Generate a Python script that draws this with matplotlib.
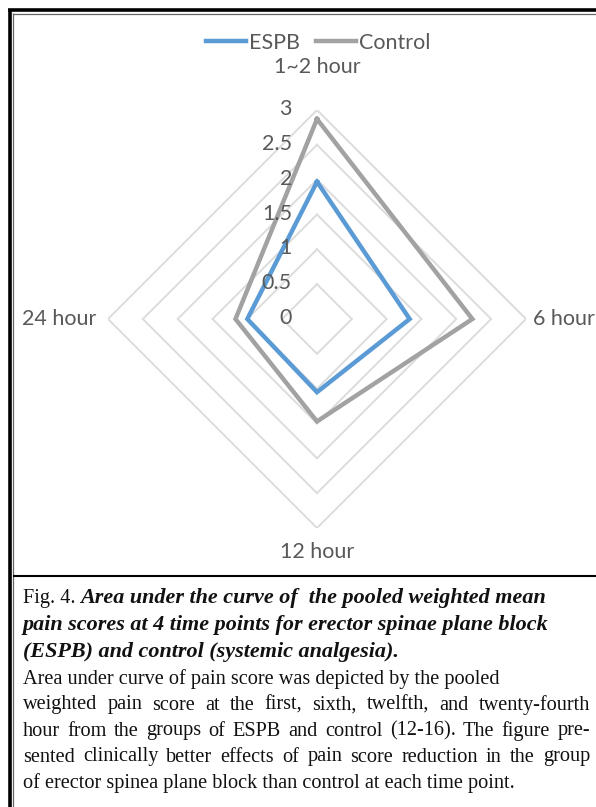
import matplotlib
matplotlib.use('Agg')
import matplotlib.pyplot as plt
import matplotlib.transforms as mtransforms
from matplotlib.lines import Line2D
import numpy as np

# ---------------- data ----------------
categories = ['1~2 hour', '6 hour', '12 hour', '24 hour']
series_names = ['ESPB', 'Control']
espb = [1.97, 1.33, 1.05, 1.00]
control = [2.87, 2.23, 1.47, 1.17]
ring_values = [0.5, 1.0, 1.5, 2.0, 2.5, 3.0]
tick_values = [0, 0.5, 1, 1.5, 2, 2.5, 3]
tick_labels = ['0', '0.5', '1', '1.5', '2', '2.5', '3']

caption_title_lines = [
    ('Fig. 4. ', 'Area under the curve of  the pooled weighted mean'),
    ('', 'pain scores at 4 time points for erector spinae plane block'),
    ('', '(ESPB) and control (systemic analgesia).'),
]
caption_body_lines = [
    ('Area under curve of pain score was depicted by the pooled', False),
    ('weighted pain score at the first, sixth, twelfth, and twenty-fourth', True),
    ('hour from the groups of ESPB and control (12-16). The figure pre-', True),
    ('sented clinically better effects of pain score reduction in the group', True),
    ('of erector spinea plane block than control at each time point.', False),
]

# ---------------- figure ----------------
W, H = 596, 807
fig = plt.figure(figsize=(W / 100, H / 100), dpi=100)
fig.patch.set_facecolor('white')

def fx(x):
    return x / W

def fy(y):
    return 1 - y / H

cx, cy, R = 317, 319, 209
ax = fig.add_axes([fx(cx - R), fy(cy + R), 2 * R / W, 2 * R / H], projection='polar')
ax.set_theta_zero_location('N')
ax.set_theta_direction(-1)
ax.set_ylim(0, 3)
ax.grid(False)
ax.spines['polar'].set_visible(False)
ax.set_xticks([])
ax.set_yticks([])
ax.patch.set_alpha(0)

n = len(categories)
theta = np.arange(n) * 2 * np.pi / n
theta_c = np.append(theta, theta[0])

for v in ring_values:
    ax.plot(theta_c, [v] * (n + 1), color='#dcdcdc', lw=1.4, zorder=1, solid_joinstyle='miter')

blue = '#5B9BD5'
gray = '#A2A2A2'
ax.plot(theta_c, espb + espb[:1], color=blue, lw=3.2, zorder=3, solid_joinstyle='miter')
ax.plot(theta_c, control + control[:1], color=gray, lw=3.2, zorder=2, solid_joinstyle='miter')

label_font = dict(family=['Lato', 'DejaVu Sans'], color='#595959', fontsize=15.5)

# radial tick labels, to the left of the vertical axis
off = mtransforms.offset_copy(ax.transData, fig=fig, x=-25, y=1, units='dots')
for v, t in zip(tick_values, tick_labels):
    ax.text(0, v, t, transform=off, ha='right', va='center', clip_on=False, **label_font)

# category labels
ax.text(theta[0], 3.62, categories[0], ha='center', va='center', clip_on=False, **label_font)
ax.text(theta[1], 3.10, categories[1], ha='left', va='center', clip_on=False, **label_font)
ax.text(theta[2], 3.34, categories[2], ha='center', va='center', clip_on=False, **label_font)
ax.text(theta[3], 3.16, categories[3], ha='right', va='center', clip_on=False, **label_font)

# legend
handles = [Line2D([], [], color=blue, lw=3.2), Line2D([], [], color=gray, lw=3.2)]
leg = fig.legend(handles, series_names, loc='center', bbox_to_anchor=(fx(318), fy(43)),
                 ncol=2, frameon=False, handlelength=1.85, handletextpad=0.15,
                 columnspacing=0.75, prop=dict(family='Lato', size=15.5))
for t in leg.get_texts():
    t.set_color('#595959')

# ---------------- borders ----------------
def hline(y, x0, x1, lw, color):
    fig.add_artist(Line2D([fx(x0), fx(x1)], [fy(y), fy(y)], lw=lw, color=color,
                          transform=fig.transFigure, solid_capstyle='butt'))

def vline(x, y0, y1, lw, color):
    fig.add_artist(Line2D([fx(x), fx(x)], [fy(y0), fy(y1)], lw=lw, color=color,
                          transform=fig.transFigure, solid_capstyle='butt'))

vline(9.7, 8.5, 807, 2.6, 'black')
hline(10.2, 8.0, 596, 2.6, 'black')
vline(13.0, 13.0, 807, 0.9, '#666666')
hline(13.8, 12.5, 596, 0.9, '#666666')
hline(575.5, 12.5, 596, 1.5, 'black')

# ---------------- caption ----------------
renderer = fig.canvas.get_renderer()
serif = ['Liberation Serif', 'DejaVu Serif']
x_left = 23
x_right = 590
line_y = [598, 625, 652, 679, 705, 731, 757, 783]

def width_px(t):
    return t.get_window_extent(renderer).width

# size the italic title font so that its second line spans the measured width
probe = fig.text(0, 0, caption_title_lines[1][1], family=serif, fontsize=14,
                 style='italic', weight='bold')
title_size = 14 * (548 - x_left) / width_px(probe)
probe.remove()

for i, (prefix, italic) in enumerate(caption_title_lines):
    x = x_left
    y = fy(line_y[i])
    if prefix:
        tp = fig.text(fx(x), y, prefix, family=serif, fontsize=14.6, ha='left', va='center',
                      color='#111111')
        x += width_px(tp)
    fig.text(fx(x), y, italic, family=serif, fontsize=title_size, style='italic',
             weight='bold', ha='left', va='center', color='#111111')

body_size = 14.6
for j, (line, justify) in enumerate(caption_body_lines):
    y = fy(line_y[3 + j])
    if not justify:
        fig.text(fx(x_left), y, line, family=serif, fontsize=body_size, ha='left', va='center',
                 color='#111111')
        continue
    words = line.split(' ')
    texts = [fig.text(0, y, w, family=serif, fontsize=body_size, ha='left', va='center',
                      color='#111111') for w in words]
    widths = [width_px(t) for t in texts]
    gap = (x_right - x_left - sum(widths)) / (len(words) - 1)
    x = x_left
    for t, w in zip(texts, widths):
        t.set_x(fx(x))
        x += w + gap

fig.savefig('out.png', dpi=100, facecolor='white')
